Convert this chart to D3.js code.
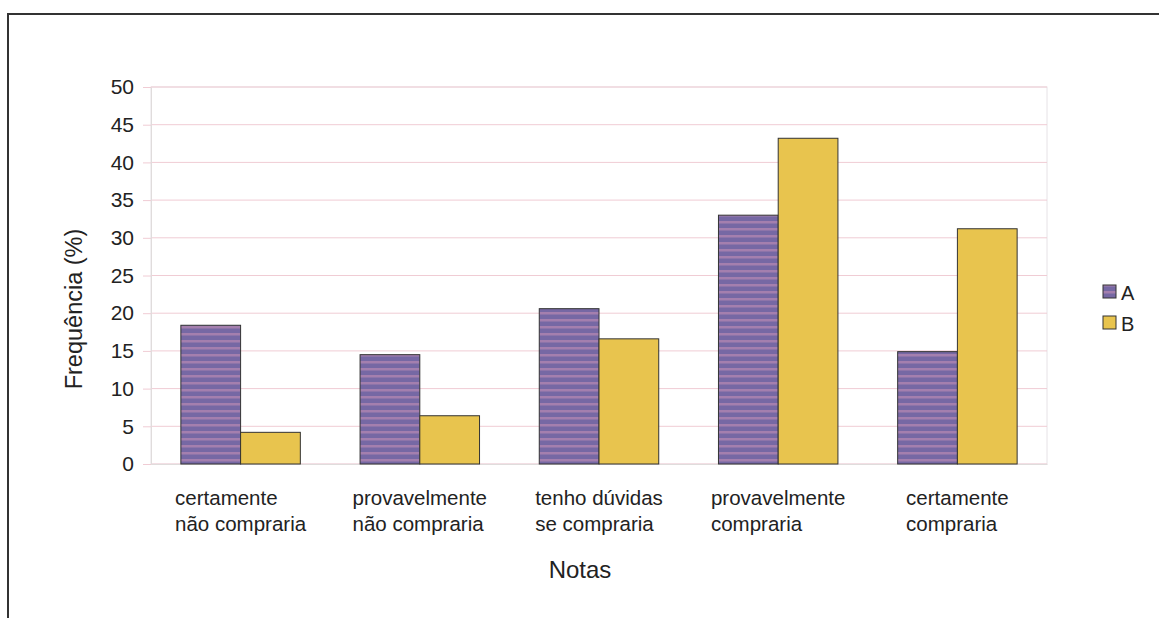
<!DOCTYPE html>
<html><head><meta charset="utf-8">
<script src="https://cdn.jsdelivr.net/npm/d3@7"></script>
<style>body{margin:0;background:#fff;}svg{display:block;font-family:"Liberation Sans",Arial,sans-serif;}</style>
</head><body>
<svg id="c" width="1159" height="618"></svg>
<script>
const categories = [["certamente","não compraria"],["provavelmente","não compraria"],["tenho dúvidas","se compraria"],["provavelmente","compraria"],["certamente","compraria"]];
const seriesNames = ["A","B"];
const valuesA = [18.4, 14.5, 20.6, 33.0, 14.9];
const valuesB = [4.2, 6.4, 16.6, 43.2, 31.2];
const yTicks = [0,5,10,15,20,25,30,35,40,45,50];
const colors = {A:"#7a6aa6", B:"#e8c44e"};

const svg = d3.select("#c");
const m = {l:151, r:1047, t:87, b:464};
const defs = svg.append("defs");
const pat = defs.append("pattern").attr("id","stripeA").attr("patternUnits","userSpaceOnUse").attr("width",8).attr("height",7);
pat.append("rect").attr("width",8).attr("height",7).attr("fill","#7668a4");
pat.append("rect").attr("y",4).attr("width",8).attr("height",2.5).attr("fill","#a47fae");

// outer frame
svg.append("path").attr("d","M8,618 V14 H1159").attr("fill","none").attr("stroke","#333").attr("stroke-width",2);

const x0 = d3.scaleBand().domain(d3.range(categories.length)).range([m.l,m.r]).paddingInner(0).paddingOuter(0);
const x1 = d3.scaleBand().domain(seriesNames).range([0,x0.bandwidth()]).paddingInner(0).paddingOuter(0.5);
const y = d3.scaleLinear().domain([0,50]).range([m.b,m.t]);

// plot area border
svg.append("rect").attr("x",m.l).attr("y",m.t).attr("width",m.r-m.l).attr("height",m.b-m.t)
  .attr("fill","none").attr("stroke","#e6e2e6").attr("stroke-width",1);
// gridlines
svg.append("g").selectAll("line").data(yTicks).join("line")
  .attr("x1",m.l).attr("x2",m.r).attr("y1",d=>y(d)).attr("y2",d=>y(d))
  .attr("stroke","#f0ccd4").attr("stroke-width",1);

// y axis
const ya = svg.append("g").attr("transform",`translate(${m.l},0)`)
  .call(d3.axisLeft(y).tickValues(yTicks).tickSize(8).tickPadding(9));
ya.select(".domain").attr("stroke","#e0dcdc");
ya.selectAll(".tick line").attr("stroke","#f0ccd4");
ya.selectAll("text").attr("font-size",21).attr("fill","#222").attr("font-family","Liberation Sans, Arial, sans-serif");

// x axis
const xa = svg.append("g").attr("transform",`translate(0,${m.b})`)
  .call(d3.axisBottom(x0).tickSize(0).tickFormat(""));
xa.select(".domain").attr("stroke","#e0dcdc");

// bars
const data = d3.range(categories.length).map(i=>({i, vals:[{k:"A",v:valuesA[i]},{k:"B",v:valuesB[i]}]}));
const g = svg.append("g").selectAll("g").data(data).join("g").attr("transform",d=>`translate(${x0(d.i)},0)`);
g.selectAll("rect").data(d=>d.vals).join("rect")
  .attr("x",d=>x1(d.k)).attr("width",x1.bandwidth())
  .attr("y",d=>y(d.v)).attr("height",d=>y(0)-y(d.v))
  .attr("fill",d=>d.k==="A"?"url(#stripeA)":colors.B)
  .attr("stroke","#333").attr("stroke-width",1);

// category labels
categories.forEach((lines,i)=>{
  const t = svg.append("text").attr("font-size",20.5).attr("fill","#222");
  lines.forEach((ln,j)=>t.append("tspan").attr("y",505+j*26).text(ln));
  let w = 0; t.selectAll("tspan").each(function(){w=Math.max(w,this.getComputedTextLength());});
  const cx = x0(i)+x0.bandwidth()/2;
  t.selectAll("tspan").attr("x",cx-w/2);
});

// axis titles
svg.append("text").attr("x",580).attr("y",578).attr("text-anchor","middle").attr("font-size",24).attr("fill","#222").text("Notas");
svg.append("text").attr("transform","translate(82,309) rotate(-90)").attr("text-anchor","middle").attr("font-size",23.5).attr("fill","#222").text("Frequência (%)");

// legend
const lg = svg.append("g");
seriesNames.forEach((s,i)=>{
  const yy = 297+i*31;
  lg.append("rect").attr("x",1103).attr("y",yy-12).attr("width",13).attr("height",13)
    .attr("fill",s==="A"?"url(#stripeA)":colors.B).attr("stroke","#333").attr("stroke-width",1);
  lg.append("text").attr("x",1121).attr("y",yy+3).attr("font-size",20).attr("fill","#222").text(s);
});
</script>
</body></html>
